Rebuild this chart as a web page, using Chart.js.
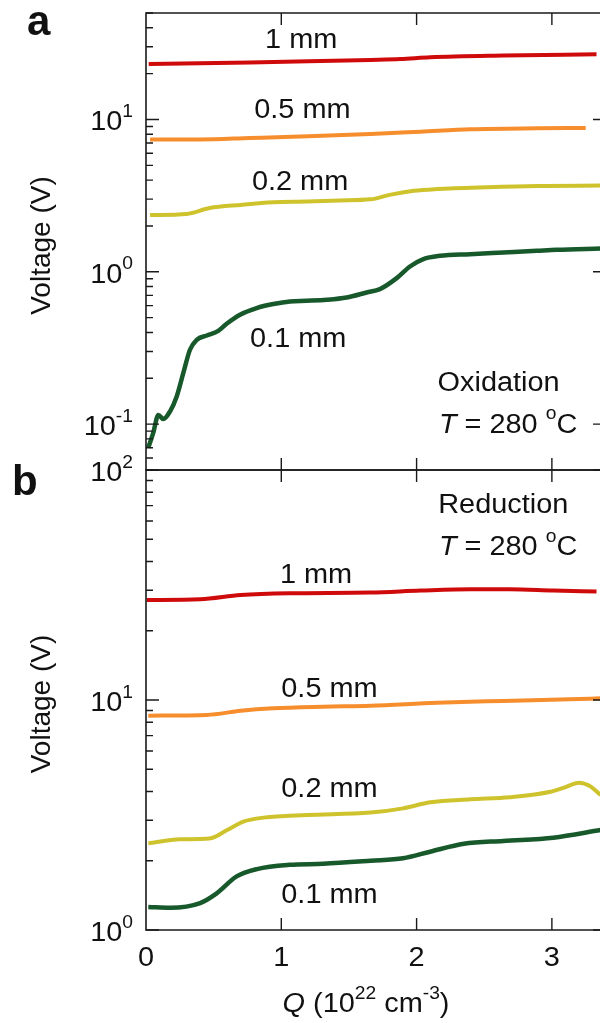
<!DOCTYPE html>
<html>
<head>
<meta charset="utf-8">
<script src="https://cdn.jsdelivr.net/npm/chart.js@4.4.0/dist/chart.umd.min.js"></script>
<style>
  body { margin: 0; background: #fff; }
  #wrap { position: relative; width: 600px; height: 1023px; overflow: hidden; }
  canvas { position: absolute; left: 0; top: 0; }
</style>
</head>
<body>
<div id="wrap">
  <canvas id="chartA" width="612" height="1023"></canvas>
  <canvas id="chartB" width="612" height="1023"></canvas>
</div>
<script>
// thickness labels and colours
const sizes = ['1 mm', '0.5 mm', '0.2 mm', '0.1 mm'];
const colors = ['#cf0a0a', '#f68e2e', '#cfc32d', '#17592b'];

// x ticks, Q in 10^22 cm^-3
const xTicks = [0, 1, 2, 3];
// labelled decades on each panel
const oxYTicks = [0.1, 1, 10];
const redYTicks = [1, 10, 100];

// panel a, oxidation: [Q, V]
const ox1mm = [[0.02, 23.1], [0.77, 23.7], [1.2, 24.1], [1.66, 24.6], [1.88, 24.9], [2.1, 25.6], [2.64, 26.3], [3.33, 26.8]];
const ox05mm = [[0.03, 7.39], [0.40, 7.39], [0.77, 7.56], [1.14, 7.74], [1.66, 8.04], [2.03, 8.32], [2.40, 8.62], [2.89, 8.75], [3.25, 8.79]];
const ox02mm = [[0.03, 2.36], [0.30, 2.40], [0.47, 2.62], [0.70, 2.75], [0.94, 2.86], [1.19, 2.89], [1.43, 2.94], [1.66, 2.99],
  [1.80, 3.20], [1.98, 3.40], [2.15, 3.49], [2.52, 3.59], [2.89, 3.66], [3.36, 3.68]];
const ox01mm = [[0.017, 0.070], [0.054, 0.088], [0.091, 0.115], [0.128, 0.108], [0.177, 0.121], [0.227, 0.152], [0.276, 0.217],
  [0.325, 0.308], [0.375, 0.358], [0.449, 0.382], [0.534, 0.410], [0.596, 0.456], [0.695, 0.523], [0.818, 0.578], [0.941, 0.614],
  [1.064, 0.639], [1.188, 0.645], [1.336, 0.655], [1.483, 0.678], [1.631, 0.732], [1.729, 0.770], [1.853, 0.909], [1.951, 1.083],
  [2.050, 1.211], [2.173, 1.273], [2.395, 1.306], [2.641, 1.339], [2.888, 1.373], [3.035, 1.394], [3.36, 1.422]];

// panel b, reduction: [Q, V]
const red1mm = [[0.005, 27.2], [0.40, 27.4], [0.70, 28.6], [1.06, 29.1], [1.66, 29.3], [2.03, 29.9], [2.40, 30.3], [2.69, 30.3], [3.01, 29.9], [3.33, 29.6]];
const red05mm = [[0.017, 8.55], [0.45, 8.61], [0.70, 8.98], [0.94, 9.20], [1.31, 9.35], [1.66, 9.44], [2.15, 9.73], [2.64, 9.91], [3.13, 10.07], [3.36, 10.17]];
const red02mm = [[0.017, 2.38], [0.25, 2.48], [0.47, 2.50], [0.60, 2.72], [0.72, 2.96], [0.87, 3.08], [1.19, 3.16], [1.66, 3.24], [1.90, 3.38],
  [2.10, 3.59], [2.40, 3.70], [2.69, 3.78], [2.99, 3.99], [3.09, 4.16], [3.20, 4.37], [3.28, 4.23], [3.36, 3.86]];
const red01mm = [[0.017, 1.26], [0.18, 1.25], [0.40, 1.31], [0.52, 1.44], [0.67, 1.71], [0.82, 1.84], [1.06, 1.92], [1.31, 1.94], [1.66, 2.00],
  [1.90, 2.05], [2.10, 2.19], [2.35, 2.37], [2.64, 2.44], [3.01, 2.52], [3.36, 2.72]];

const FONT = '"Liberation Sans", Arial, Helvetica, sans-serif';
const SX = 1.07; // text in the figure is a little wider than Arial

function fontFor(p, size) {
  let s = p.sup ? Math.round(size * 0.65) : size;
  return (p.bold ? 'bold ' : '') + (p.italic ? 'italic ' : '') + s + 'px ' + FONT;
}

// draws a run of text pieces, some italic or superscript
function richText(ctx, parts, x, y, align, size, sx) {
  sx = sx || SX;
  let widths = parts.map(p => { ctx.font = fontFor(p, size); return ctx.measureText(p.t).width; });
  let total = widths.reduce((a, b) => a + b, 0) * sx;
  let cx = align === 'right' ? x - total : align === 'center' ? x - total / 2 : x;
  ctx.save();
  ctx.translate(cx, y);
  ctx.scale(sx, 1);
  ctx.textAlign = 'left';
  ctx.textBaseline = 'alphabetic';
  let off = 0;
  parts.forEach((p, i) => {
    ctx.font = fontFor(p, size);
    ctx.fillText(p.t, off, p.sup ? -size * 0.5 : 0);
    off += widths[i];
  });
  ctx.restore();
}

function expLabel(v) {
  return [{ t: '10' }, { t: String(Math.round(Math.log10(v))), sup: true }];
}

const framePlugin = {
  id: 'frame',
  afterDatasetsDraw(chart, args, opts) {
    const ctx = chart.ctx;
    const { left, top, right, bottom } = chart.chartArea;
    const xs = chart.scales.x, ys = chart.scales.y;
    ctx.save();
    ctx.strokeStyle = '#1a1a1a';
    ctx.fillStyle = '#111';
    ctx.lineWidth = 1.6;
    ctx.beginPath();
    ctx.moveTo(right, top); ctx.lineTo(left, top); ctx.lineTo(left, bottom); ctx.lineTo(right, bottom);
    ctx.stroke();

    ctx.lineWidth = 1.4;
    ctx.beginPath();
    xTicks.forEach(v => {
      if (v <= 0) return;
      let px = xs.getPixelForValue(v);
      ctx.moveTo(px, top); ctx.lineTo(px, top + 12);
      ctx.moveTo(px, bottom); ctx.lineTo(px, bottom - 12);
    });
    let lo = Math.floor(Math.log10(ys.min)), hi = Math.ceil(Math.log10(ys.max));
    for (let e = lo; e <= hi; e++) {
      for (let n = 1; n <= 9; n++) {
        let v = n * Math.pow(10, e);
        if (v < ys.min * 0.999 || v > ys.max * 1.001) continue;
        let py = ys.getPixelForValue(v);
        let len = n === 1 ? 13 : 7;
        ctx.moveTo(left, py); ctx.lineTo(left + len, py);
        if (n === 1) { ctx.moveTo(right, py); ctx.lineTo(right - len, py); }
      }
    }
    ctx.stroke();

    // y tick labels
    opts.yTicks.forEach(v => {
      richText(ctx, expLabel(v), 133, ys.getPixelForValue(v) + 11, 'right', 27);
    });
    // x tick labels
    if (opts.xLabels) {
      xTicks.forEach(v => {
        richText(ctx, [{ t: String(v) }], xs.getPixelForValue(v), bottom + 36, 'center', 27);
      });
      richText(ctx, [{ t: 'Q', italic: true }, { t: ' (10' }, { t: '22', sup: true }, { t: ' cm' }, { t: '-3', sup: true }, { t: ')' }],
        366, bottom + 82, 'center', 27);
    }
    // y title
    ctx.save();
    ctx.translate(50, (top + bottom) / 2 + 4);
    ctx.rotate(-Math.PI / 2);
    richText(ctx, [{ t: 'Voltage (V)' }], 0, 0, 'center', 28, 1);
    ctx.restore();

    // panel letter
    richText(ctx, [{ t: opts.letter[0], bold: true }], opts.letter[1], opts.letter[2], 'left', 42, 1);

    // curve labels and conditions
    opts.notes.forEach(n => {
      richText(ctx, n.parts, xs.getPixelForValue(n.q), ys.getPixelForValue(n.v), 'left', 27);
    });
    ctx.restore();
  }
};

function series(list) {
  return list.map((d, i) => ({
    label: sizes[i],
    data: d,
    borderColor: colors[i],
    borderWidth: i === 3 ? 4.5 : 4,
    pointRadius: 0,
    fill: false,
    cubicInterpolationMode: 'monotone'
  }));
}

function makeChart(id, sets, yMin, yMax, pad, frame) {
  return new Chart(document.getElementById(id), {
    type: 'line',
    data: { datasets: series(sets) },
    options: {
      responsive: false,
      animation: false,
      devicePixelRatio: 1,
      layout: { padding: pad },
      plugins: { legend: { display: false }, tooltip: { enabled: false }, frame: frame },
      scales: {
        x: { type: 'linear', min: 0, max: 3.4, display: false },
        y: { type: 'logarithmic', min: yMin, max: yMax, display: false }
      }
    },
    plugins: [framePlugin]
  });
}

const tempParts = [{ t: 'T', italic: true }, { t: ' = 280 ' }, { t: 'o', sup: true }, { t: 'C' }];

makeChart('chartA', [ox1mm, ox05mm, ox02mm, ox01mm], 0.05, 50,
  { left: 146, top: 13, right: 6, bottom: 553 },
  {
    yTicks: oxYTicks, xLabels: false, letter: ['a', 27, 35],
    notes: [
      { parts: [{ t: sizes[0] }], q: 0.88, v: 29.4 },
      { parts: [{ t: sizes[1] }], q: 0.80, v: 10.23 },
      { parts: [{ t: sizes[2] }], q: 0.783, v: 3.45 },
      { parts: [{ t: sizes[3] }], q: 0.769, v: 0.322 },
      { parts: [{ t: 'Oxidation' }], q: 2.155, v: 0.164 },
      { parts: tempParts, q: 2.165, v: 0.088 }
    ]
  });

makeChart('chartB', [red1mm, red05mm, red02mm, red01mm], 1, 100,
  { left: 146, top: 470, right: 6, bottom: 93 },
  {
    yTicks: redYTicks, xLabels: true, letter: ['b', 12, 495],
    notes: [
      { parts: [{ t: sizes[0] }], q: 0.99, v: 32.3 },
      { parts: [{ t: sizes[1] }], q: 1.0, v: 10.3 },
      { parts: [{ t: sizes[2] }], q: 1.0, v: 3.79 },
      { parts: [{ t: sizes[3] }], q: 1.0, v: 1.31 },
      { parts: [{ t: 'Reduction' }], q: 2.16, v: 65.0 },
      { parts: tempParts, q: 2.165, v: 42.7 }
    ]
  });
</script>
</body>
</html>
